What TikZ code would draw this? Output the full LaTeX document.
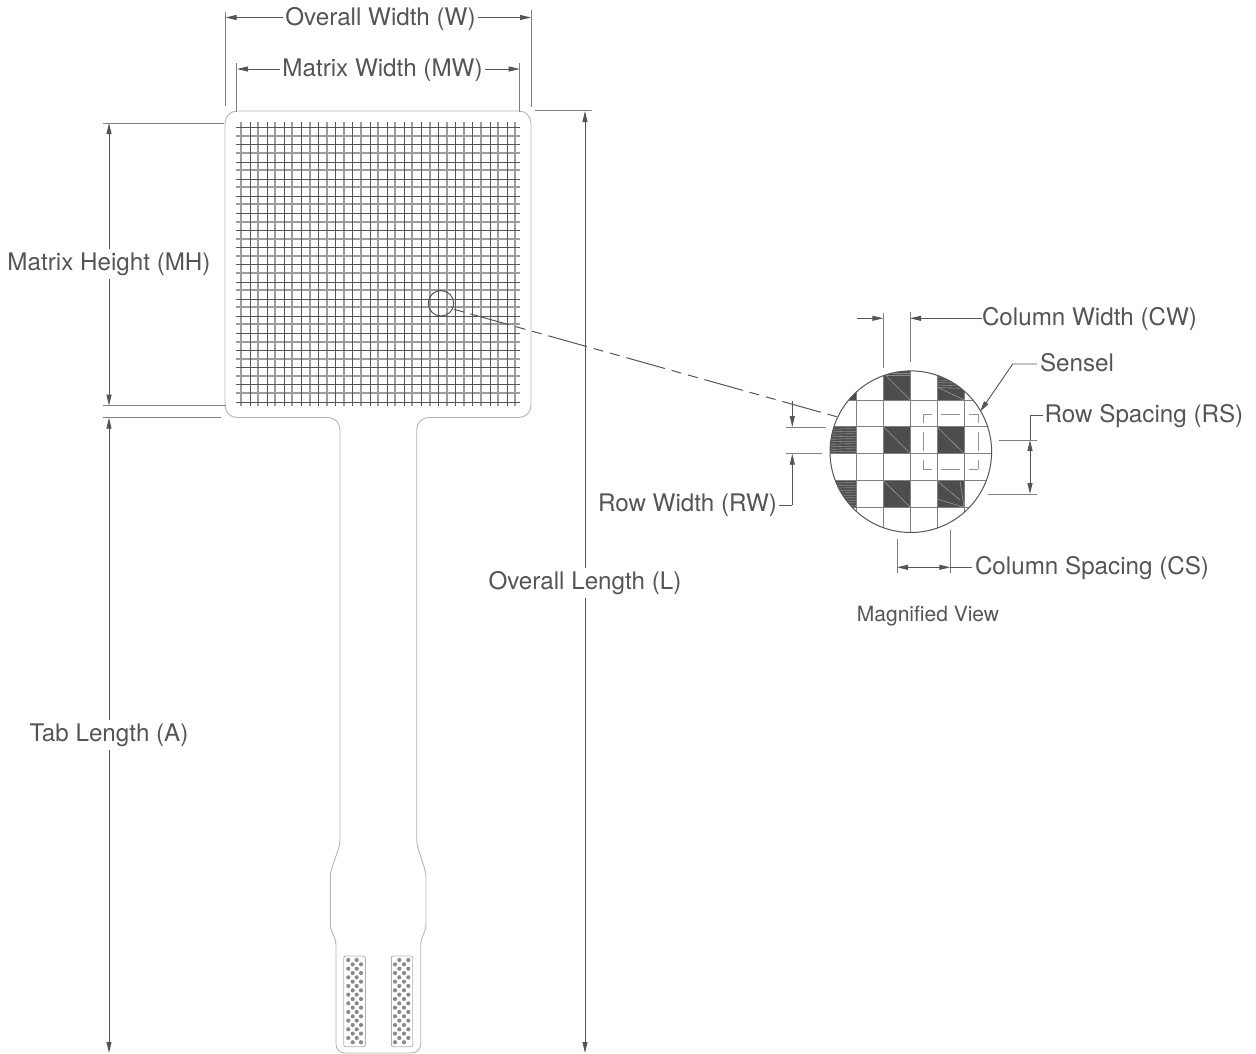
\documentclass[tikz,border=0pt]{standalone}
\usepackage{fontspec}
\setmainfont{TeX Gyre Heros}
\usetikzlibrary{arrows.meta}
\definecolor{ink}{HTML}{555555}
\definecolor{midline}{HTML}{808080}
\definecolor{outline}{HTML}{B4B4B4}
\definecolor{dotc}{HTML}{8A8A8A}
\definecolor{darkcell}{HTML}{4D4D4D}
\definecolor{hatchc}{HTML}{8C8C8C}
\definecolor{lightgrid}{HTML}{9C9C9C}
\tikzset{
  dimline/.style={draw=ink,line width=0.9pt},
  extline/.style={draw=midline,line width=1pt},
  arr/.style={-{Triangle[length=11pt,width=5pt,fill=ink]}},
  rra/.style={{Triangle[length=11pt,width=5pt,fill=ink]}-{Triangle[length=11pt,width=5pt,fill=ink]}},
  lab/.style={text=ink,font=\fontsize{24.2}{26}\selectfont,inner sep=0pt,anchor=center},
  cut/.style={lab,fill=white,inner xsep=2pt,inner ysep=3pt},
  outl/.style={draw=outline,line width=0.9pt},
  darkgrid/.style={draw=ink,line width=1pt},
  palegrid/.style={draw=lightgrid,line width=1.9pt},
  mgrid/.style={draw=midline,line width=1pt},
  cell/.style={fill=darkcell},
  hatchl/.style={draw=hatchc,line width=0.6pt},
  diagl/.style={draw=white!55!ink,line width=0.4pt},
  sq/.style={draw=midline!85,line width=1pt,dash pattern=on 9pt off 9pt on 19pt off 9pt on 9pt},
}
\begin{document}
\begin{tikzpicture}[x=1pt,y=-1pt]
\useasboundingbox (0,0) rectangle (1256,1053);
% sensor outline
\draw[outl,rounded corners=12] (378,111) -- (531,111) -- (531,417.5) -- (416.7,417.5)
  [rounded corners=4] -- (416.7,844) -- (426,873) -- (426,928) -- (420.7,941)
  [rounded corners=9] -- (420.7,1053) -- (336,1053)
  [rounded corners=4] -- (336,941) -- (330.3,928) -- (330.3,873) -- (340,844)
  [rounded corners=12] -- (340,417.5) -- (225,417.5) -- (225,111) -- cycle;
% matrix: pale double-pixel lines first, dark single-pixel lines on top
\foreach \i in {0,2,...,32}{
  \pgfmathsetmacro{\xx}{round(241+8.57*\i)}
  \draw[palegrid] (\xx,122) -- (\xx,406);
}
\foreach \i in {1,3,...,31}{
  \pgfmathsetmacro{\yy}{round(127.3+8.57*\i)}
  \draw[palegrid] (236,\yy) -- (520,\yy);
}
\foreach \i in {1,3,...,31}{
  \pgfmathsetmacro{\xx}{round(241+8.57*\i)+0.5}
  \draw[darkgrid] (\xx,122) -- (\xx,406);
}
\foreach \i in {0,2,...,32}{
  \pgfmathsetmacro{\yy}{round(127.3+8.57*\i)+0.5}
  \draw[darkgrid] (236,\yy) -- (520,\yy);
}
% connector pads
\draw[outl,rounded corners=2] (343.7,956) rectangle (365.3,1046.7);
\draw[outl,rounded corners=2] (391.3,956) rectangle (412.7,1046.7);
\foreach \r in {0,...,19}{
  \pgfmathsetmacro{\yy}{960+4.33*\r}
  \ifodd\r
    \fill[dotc] (352.7,\yy) circle (2.1) (361,\yy) circle (2.1);
    \fill[dotc] (395,\yy) circle (2.1) (404,\yy) circle (2.1);
  \else
    \fill[dotc] (348.3,\yy) circle (2.1) (356.7,\yy) circle (2.1);
    \fill[dotc] (399.3,\yy) circle (2.1) (408.3,\yy) circle (2.1);
  \fi
}
% small circle and leader
\coordinate (spotc) at (441,303.3);
\coordinate (leadA) at (454,309.3);
\coordinate (leadB) at (836.7,416.7);
\draw[draw=ink,line width=1pt] (spotc) circle (12.7);
% magnified view
\coordinate (magc) at (910.8,451.7);
\begin{scope}
  \clip (magc) circle (80.8);
  \fill[cell] (883.3,365) rectangle (910.3,400);
  \fill[cell] (937,365) rectangle (964.3,400);
  \fill[cell] (883.3,426.7) rectangle (910.3,453.7);
  \fill[cell] (937,426.7) rectangle (964.3,453.7);
  \fill[cell] (883.3,480.7) rectangle (910.3,507.3);
  \fill[cell] (937,480.7) rectangle (964.3,507.3);
  \fill[cell] (825,426.7) rectangle (856.7,453.7);
  \fill[cell] (825,480.7) rectangle (856.7,507.3);
  \fill[cell] (845,390) rectangle (856.7,400);
  % hatching
  \foreach \yy in {375,377.5,380,382.5,385,387.5}
    \draw[hatchl] (937,\yy) -- (964.3,\yy+1);
  \foreach \yy in {429,431.5,...,452}{
    \draw[hatchl] (825,\yy) .. controls (835,\yy+1) and (845,\yy-1) .. (856.7,\yy);}
  \foreach \yy in {483,485.5,...,506}{
    \draw[hatchl] (825,\yy) .. controls (835,\yy+1) and (845,\yy-1) .. (856.7,\yy);}
  % top of the first dark cell
  \draw[hatchl] (883.3,373) -- (910.3,373) (883.3,375) -- (910.3,375);
  % diagonals
  \draw[diagl] (883.3,373) -- (910.3,400);
  \draw[diagl] (883.3,426.7) -- (910.3,453.7);
  \draw[diagl] (937,426.7) -- (964.3,453.7);
  \draw[diagl] (883.3,480.7) -- (910.3,507.3);
  \draw[diagl] (937,480.7) -- (960,500);
  \draw[diagl] (937,499) -- (964,507.3) (960,481) -- (964,507) (937,387) -- (964,400);
  \foreach \x in {856.7,883.3,910.3,937,964.3}
    \draw[mgrid] (\x,360) -- (\x,545);
  \foreach \y in {400,426.7,453.7,480.7,507.3}
    \draw[mgrid] (820,\y) -- (1000,\y);
\end{scope}
\draw[draw=ink,line width=1pt] (magc) circle (80.8);
\draw[sq] (923.3,414) -- (978.3,414);
\draw[sq] (978.3,414) -- (978.3,469);
\draw[sq] (978.3,469) -- (923.3,469);
\draw[sq] (923.3,469) -- (923.3,414);
% leader with gaps
\draw[draw=ink,line width=1pt,dash pattern=on 40pt off 7pt on 10pt off 7pt on 10pt off 7pt,dash phase=64pt]
  (leadA) -- (leadB);
% labels
\node[cut] (ow) at (380.5,19) {Overall Width (W)};
\node[cut] (mw) at (382.5,70) {Matrix Width (MW)};
\node[cut] (mh) at (109,264) {Matrix Height (MH)};
\node[cut] (ta) at (109,735) {Tab Length (A)};
\node[cut] (ol) at (585,583) {Overall Length (L)};
\node[lab] (cw) at (1089.5,319) {Column Width (CW)};
\node[lab] (se) at (1077,363) {Sensel};
\node[lab] (rs) at (1144,416) {Row Spacing (RS)};
\node[lab] (rw) at (687.5,505) {Row Width (RW)};
\node[lab] (cs) at (1092,568) {Column Spacing (CS)};
\node[text=ink,font=\fontsize{21}{23}\selectfont,inner sep=0pt] (mv) at (928,616) {Magnified View};
% overall width
\coordinate (owL) at (225.5,17.5); \coordinate (owR) at (531,17.5);
\draw[extline] (225,12) -- (225,106);
\draw[extline] (531.3,10) -- (531.3,107);
\draw[dimline,arr] (ow.west |- owL) -- (owL);
\draw[dimline,arr] (ow.east |- owR) -- (owR);
% matrix width
\coordinate (mwL) at (237,69); \coordinate (mwR) at (519.7,69);
\draw[extline] (236.7,63) -- (236.7,111.7);
\draw[extline] (519.7,63) -- (519.7,111.7);
\draw[dimline,arr] (mw.west |- mwL) -- (mwL);
\draw[dimline,arr] (mw.east |- mwR) -- (mwR);
% matrix height
\coordinate (mhT) at (109,123); \coordinate (mhB) at (109,405.7);
\draw[extline] (103,123) -- (224,123);
\draw[extline] (102.7,405.7) -- (226,405.7);
\draw[dimline,arr] (mh.north) -- (mhT);
\draw[dimline,arr] (mh.south) -- (mhB);
% tab length
\coordinate (taT) at (109,417.7); \coordinate (taB) at (109,1053);
\draw[extline] (102.7,417.7) -- (221,417.7);
\draw[dimline,arr] (ta.north) -- (taT);
\draw[dimline,arr] (ta.south) -- (taB);
% overall length
\coordinate (olT) at (585,111); \coordinate (olB) at (585,1053);
\draw[extline] (535,110.7) -- (591.7,110.7);
\draw[dimline,arr] (ol.north) -- (olT);
\draw[dimline,arr] (ol.south) -- (olB);
% column width
\coordinate (cwL) at (883.3,318.3); \coordinate (cwR) at (910,318.3); \coordinate (cwS) at (857.3,318.3);
\draw[extline] (883.3,312.7) -- (883.3,367.7);
\draw[extline] (910,312) -- (910,362);
\draw[dimline,arr] (cwS) -- (cwL);
\draw[dimline,arr] (cw.west |- cwR) -- (cwR);
% sensel
\coordinate (seK) at (1012.7,364); \coordinate (seT) at (980,411.7);
\draw[dimline,arr] ([xshift=-3pt]se.west |- seK) -- (seK) -- (seT);
% row spacing
\coordinate (rsK) at (1030,415); \coordinate (rsT) at (1030,440); \coordinate (rsB) at (1030,494);
\draw[extline] (999,440) -- (1036.7,440);
\draw[extline] (987.7,494) -- (1037,494);
\draw[dimline] ([xshift=-2pt]rs.west |- rsK) -- (rsK) -- (rsT);
\draw[dimline,rra] (rsT) -- (rsB);
% column spacing
\coordinate (csL) at (897,567.3); \coordinate (csR) at (950.3,567.3);
\draw[extline] (897,539) -- (897,573);
\draw[extline] (950.3,530) -- (950.3,573);
\draw[dimline,rra] (csL) -- (csR);
\draw[dimline] (csR) -- ([xshift=-3pt]cs.west |- csR);
% row width
\coordinate (rwT) at (792.3,427); \coordinate (rwB) at (792.3,453.7);
\coordinate (rwS) at (792.3,400.7); \coordinate (rwK) at (792.3,505);
\draw[extline] (786,427) -- (826,427);
\draw[extline] (786,453.7) -- (822,453.7);
\draw[dimline,arr] (rwS) -- (rwT);
\draw[dimline,arr] (rwK) -- (rwB);
\draw[dimline] (rwK) -- (779,505);
\end{tikzpicture}
\end{document}
